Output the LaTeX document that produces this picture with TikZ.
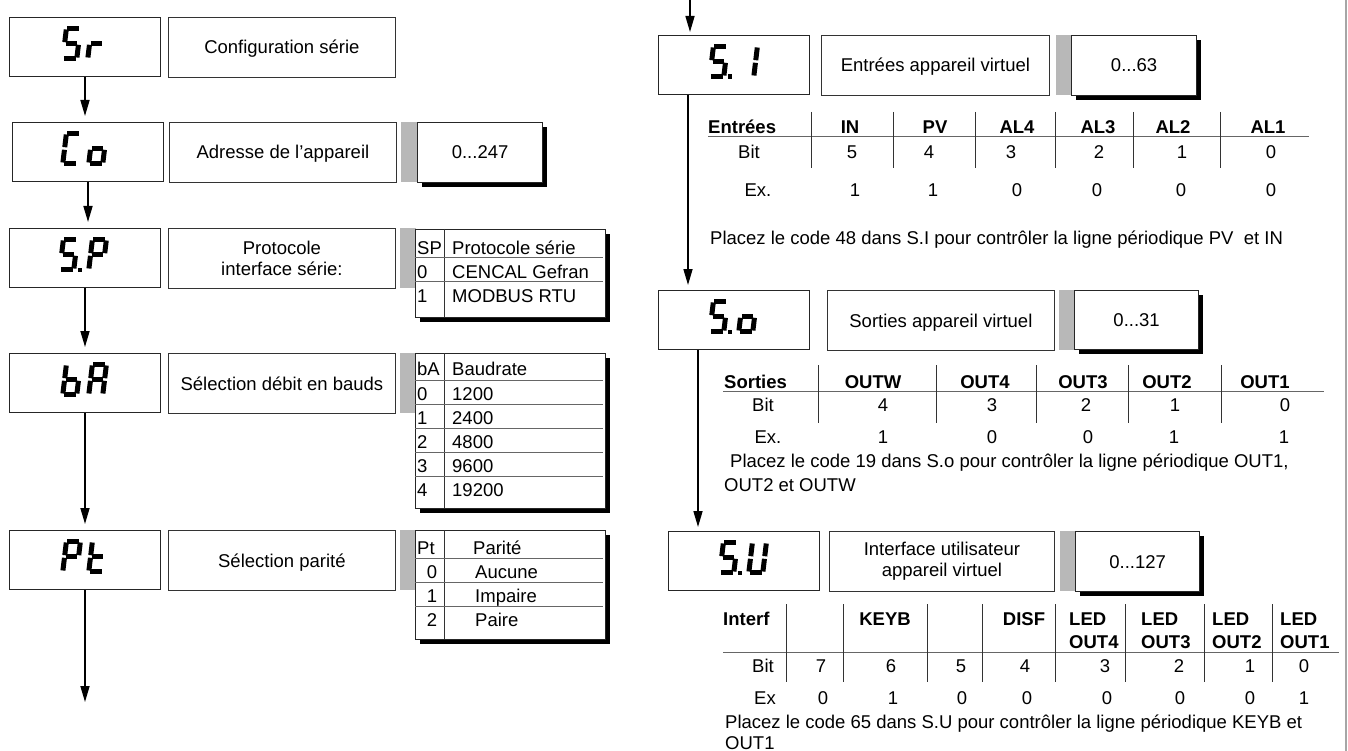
\documentclass[tikz,border=0pt]{standalone}
\usepackage{fontspec}
\setmainfont{Liberation Sans}
\usetikzlibrary{arrows.meta,positioning,shadows}

% one digit of the display: x, y (lower left), segments a b c d e f g
\newcommand{\sevenseg}[9]{%
  \begin{scope}[shift={(#1,#2)}, x=1pt, y=1pt, xslant=0.12]
    \ifnum#3=1 \draw[lcdseg] (3.5,32.5) -- (15.5,32.5);\fi
    \ifnum#4=1 \draw[lcdseg] (16.5,31.5) -- (16.5,18.8);\fi
    \ifnum#5=1 \draw[lcdseg] (16.5,16.2) -- (16.5,3.5);\fi
    \ifnum#6=1 \draw[lcdseg] (3.5,2.5) -- (15.5,2.5);\fi
    \ifnum#7=1 \draw[lcdseg] (2.5,16.2) -- (2.5,3.5);\fi
    \ifnum#8=1 \draw[lcdseg] (2.5,31.5) -- (2.5,18.8);\fi
    \ifnum#9=1 \draw[lcdseg] (3.8,17.5) -- (15.2,17.5);\fi
  \end{scope}}
\newcommand{\lcdS}[2]{\sevenseg{#1}{#2}1011011}
\newcommand{\lcdr}[2]{\sevenseg{#1}{#2}0000101}
\newcommand{\lcdC}[2]{\sevenseg{#1}{#2}1001110}
\newcommand{\lcdo}[2]{\sevenseg{#1}{#2}0011101}
\newcommand{\lcdP}[2]{\sevenseg{#1}{#2}1100111}
\newcommand{\lcdb}[2]{\sevenseg{#1}{#2}0011111}
\newcommand{\lcdA}[2]{\sevenseg{#1}{#2}1110111}
\newcommand{\lcdt}[2]{\sevenseg{#1}{#2}0001111}
\newcommand{\lcdI}[2]{\sevenseg{#1}{#2}0110000}
\newcommand{\lcdU}[2]{\sevenseg{#1}{#2}0111110}
\newcommand{\lcddot}[2]{\fill (#1+20.5,#2) rectangle (#1+25,#2-4.5);}

\begin{document}
\begin{tikzpicture}[x=1pt, y=-1pt, font=\fontsize{18.5}{21.5}\selectfont,
  lcdbox/.style={draw=black!85, line width=1pt, fill=white, minimum width=151pt, minimum height=59pt, inner sep=0pt, anchor=north west},
  descr/.style={draw=black!80, line width=0.8pt, minimum width=227pt, minimum height=60pt, inner sep=0pt, align=center, anchor=north west},
  capline/.style={text height=13.2pt, text depth=0pt},
  greybar/.style={fill=black!28, minimum width=16pt, minimum height=60pt, inner sep=0pt, anchor=north west},
  valbox/.style={draw=black!85, line width=0.8pt, fill=white, minimum width=125pt, minimum height=60pt, inner sep=0pt, capline, anchor=north west,
    drop shadow={shadow xshift=4.5pt, shadow yshift=-4.5pt, fill=black, opacity=1}},
  listbox/.style={draw=black!85, line width=0.8pt, fill=white, minimum width=190pt, inner sep=0pt, anchor=north west,
    drop shadow={shadow xshift=5pt, shadow yshift=-5pt, fill=black, opacity=1}},
  cell/.style={inner sep=0pt, text height=13.2pt, text depth=0pt},
  bold/.style={font=\fontsize{18.5}{23}\selectfont\bfseries},
  tabrule/.style={black!60, line width=0.9pt},
  tabsep/.style={black!80, line width=0.7pt},
  flow/.style={-{Triangle[length=16pt, width=9pt]}, line width=1.6pt, shorten >=6pt},
  lcdseg/.style={line width=5pt}]

  \useasboundingbox (0,0) rectangle (1348,751);

  % Left column displays
  \node[lcdbox] (Sr) at (9,17) {};
  \node[lcdbox] (Co) at (12,122) {};
  \node[lcdbox] (SP) at (9,228) {};
  \node[lcdbox] (bA) at (9,353) {};
  \node[lcdbox] (Pt) at (9,530) {};
  \lcdS{60}{61} \lcdr{85}{61}
  \lcdC{60}{166} \lcdo{86}{166}
  \lcdS{57}{272} \lcddot{57}{272} \lcdP{86}{272}
  \lcdb{60}{397} \lcdA{86}{397}
  \lcdP{60}{574} \lcdt{86}{574}

  % Left column descriptions
  \node[descr, capline, right=7pt of Sr.north east, anchor=north west] (dSr) {Configuration série};
  \node[descr, capline, right=5pt of Co.north east, anchor=north west] (dCo) {Adresse de l’appareil};
  \node[descr, right=7pt of SP.north east, anchor=north west] (dSP) {Protocole\\interface série:};
  \node[descr, capline, right=7pt of bA.north east, anchor=north west] (dbA) {Sélection débit en bauds};
  \node[descr, capline, right=7pt of Pt.north east, anchor=north west] (dPt) {Sélection parité};

  % Grey bars and value
  \node[greybar, right=4pt of dCo.north east, anchor=north west] (gCo) {};
  \node[greybar, right=4pt of dSP.north east, anchor=north west] (gSP) {};
  \node[greybar, right=4pt of dbA.north east, anchor=north west] (gbA) {};
  \node[greybar, right=4pt of dPt.north east, anchor=north west] (gPt) {};
  \node[valbox, right=0pt of gCo.north east, anchor=north west] (vCo) {0...247};

  % SP table
  \node[listbox, minimum height=88pt] (tSP) at (415,229) {};
  \draw[tabsep] (444,229) -- (444,317);
  \draw[tabrule] (415,257) -- (603,257);
  \draw[tabrule] (415,281) -- (603,281);
  \foreach \y/\k/\v [count=\i] in {248/SP/Protocole série, 272/0/CENCAL Gefran, 296/1/MODBUS RTU} {
    \node[cell, anchor=west] (spk\i) at (417,\y) {\k};
    \node[cell, anchor=west] (spv\i) at (452,\y) {\v};
  }

  % bA table
  \node[listbox, minimum height=155pt] (tbA) at (415,353) {};
  \draw[tabsep] (444,353) -- (444,508);
  \foreach \y in {380,404,428,452,476} \draw[tabrule] (415,\y) -- (603,\y);
  \foreach \y/\k/\v [count=\i] in {369/bA/Baudrate, 394/0/1200, 418/1/2400, 442/2/4800, 466/3/9600, 490/4/19200} {
    \node[cell, anchor=west] (bak\i) at (417,\y) {\k};
    \node[cell, anchor=west] (bav\i) at (452,\y) {\v};
  }

  % Pt table
  \node[listbox, minimum height=109pt] (tPt) at (415,530) {};
  \draw[tabsep] (444,530) -- (444,639);
  \foreach \y in {558,582,606} \draw[tabrule] (415,\y) -- (603,\y);
  \node[cell, anchor=west] (ptk0) at (417,548) {Pt};
  \node[cell, anchor=west] (ptv0) at (473,548) {Parité};
  \foreach \y/\k/\v [count=\i] in {572/0/Aucune, 596/1/Impaire, 620/2/Paire} {
    \node[cell] (ptk\i) at (432,\y) {\k};
    \node[cell, anchor=west] (ptv\i) at (475,\y) {\v};
  }

  % Left arrows
  \coordinate (endL) at (85,702);
  \draw[flow] (Sr.south) -- (Sr.south |- Co.north);
  \draw[flow] (Co.south) -- (Co.south |- SP.north);
  \draw[flow] (SP.south) -- (SP.south |- bA.north);
  \draw[flow] (bA.south) -- (bA.south |- Pt.north);
  \draw[flow, shorten >=0pt] (Pt.south) -- (endL);

  % Right column displays
  \node[lcdbox] (SI) at (658,35) {};
  \node[lcdbox] (So) at (658,290) {};
  \node[lcdbox] (SU) at (668,531) {};
  \lcdS{707}{79} \lcddot{707}{79} \lcdI{737}{79}
  \lcdS{707}{334} \lcddot{707}{334} \lcdo{736}{334}
  \lcdS{717}{575} \lcddot{717}{575} \lcdU{746}{575}

  % Right column descriptions, bars and values
  \node[descr, capline, minimum width=228pt, right=11pt of SI.north east, anchor=north west] (dSI) {Entrées appareil virtuel};
  \node[descr, capline, right=17pt of So.north east, anchor=north west] (dSo) {Sorties appareil virtuel};
  \node[descr, minimum width=225pt, right=9pt of SU.north east, anchor=north west] (dSU) {Interface utilisateur\\appareil virtuel};
  \node[greybar, minimum width=15pt, right=6pt of dSI.north east, anchor=north west] (gSI) {};
  \node[greybar, minimum width=15pt, right=4pt of dSo.north east, anchor=north west] (gSo) {};
  \node[greybar, minimum width=15pt, right=5pt of dSU.north east, anchor=north west] (gSU) {};
  \node[valbox, right=0pt of gSI.north east, anchor=north west] (vSI) {0...63};
  \node[valbox, minimum width=124pt, minimum height=59pt, right=0pt of gSo.north east, anchor=north west] (vSo) {0...31};
  \node[valbox, minimum width=124pt, right=0pt of gSU.north east, anchor=north west] (vSU) {0...127};

  % Entrees table
  \draw[tabrule] (708,136) -- (1309,136);
  \foreach \x in {811,893,975,1055,1133,1220} \draw[tabsep] (\x,112) -- (\x,168);
  \node[cell, bold, anchor=west] (eH0) at (708,127) {Entrées};
  \foreach \x/\t [count=\i] in {850/IN,935/PV,1017/AL4,1098/AL3,1173/AL2,1268/AL1}
    \node[cell, bold] (eH\i) at (\x,127) {\t};
  \node[cell] (eB0) at (749,152) {Bit};
  \foreach \x/\t [count=\i] in {852/5,929/4,1011/3,1099/2,1182/1,1271/0}
    \node[cell] (eB\i) at (\x,152) {\t};
  \node[cell] (eX0) at (758,190) {Ex.};
  \foreach \x/\t [count=\i] in {855/1,933/1,1017/0,1097/0,1181/0,1271/0}
    \node[cell] (eX\i) at (\x,190) {\t};
  \node[cell, anchor=west] (eNote) at (710,238) {Placez le code 48 dans S.I pour contrôler la ligne périodique PV~ et IN};

  % Sorties table
  \draw[tabrule] (723,391) -- (1324,391);
  \foreach \x in {818,936,1036,1128,1221} \draw[tabsep] (\x,365) -- (\x,423);
  \node[cell, bold, anchor=west] (oH0) at (724,382) {Sorties};
  \foreach \x/\t [count=\i] in {873/OUTW,985/OUT4,1083/OUT3,1167/OUT2,1265/OUT1}
    \node[cell, bold] (oH\i) at (\x,382) {\t};
  \node[cell] (oB0) at (763,405) {Bit};
  \foreach \x/\t [count=\i] in {883/4,992/3,1086/2,1175/1,1285/0}
    \node[cell] (oB\i) at (\x,405) {\t};
  \node[cell] (oX0) at (768,437) {Ex.};
  \foreach \x/\t [count=\i] in {883/1,992/0,1088/0,1174/1,1284/1}
    \node[cell] (oX\i) at (\x,437) {\t};
  \node[cell, anchor=west] (oNote1) at (730,461) {Placez le code 19 dans S.o pour contrôler la ligne périodique OUT1,};
  \node[cell, anchor=west] (oNote2) at (724,485) {OUT2 et OUTW};

  % Interf table
  \draw[tabrule] (723,652) -- (1339,652);
  \foreach \x in {786,843,927,982,1055,1125,1204,1272} \draw[tabsep] (\x,604) -- (\x,682);
  \node[cell, bold, anchor=west] (uH0) at (723,619) {Interf};
  \node[cell, bold] (uH1) at (885,619) {KEYB};
  \node[cell, bold] (uH2) at (1024,619) {DISF};
  \foreach \x/\t [count=\i] in {1069/OUT4,1141/OUT3,1212/OUT2,1280/OUT1}
    \node[bold, inner sep=0pt, align=left, anchor=west] (uL\i) at (\x,630.5) {LED\\\t};
  \node[cell] (uB0) at (763,666) {Bit};
  \foreach \x/\t [count=\i] in {821/7,891/6,961/5,1025/4,1105/3,1179/2,1250/1,1304/0}
    \node[cell] (uB\i) at (\x,666) {\t};
  \node[cell] (uX0) at (765,698) {Ex};
  \foreach \x/\t [count=\i] in {823/0,893/1,962/0,1027/0,1107/0,1180/0,1250/0,1304/1}
    \node[cell] (uX\i) at (\x,698) {\t};
  \node[cell, anchor=west] (uNote1) at (725,722) {Placez le code 65 dans S.U pour contrôler la ligne périodique KEYB et};
  \node[cell, anchor=west] (uNote2) at (725,743) {OUT1};

  % Right arrows
  \coordinate (topR) at (690,0);
  \draw[flow, shorten >=3pt] (topR) -- (topR |- SI.north);
  \draw[flow, shorten >=5pt] ([xshift=30pt]SI.south west) -- ([xshift=30pt]SI.south west |- So.north);
  \draw[flow, shorten >=4pt] ([xshift=40pt]So.south west) -- ([xshift=40pt]So.south west |- SU.north);

  % page edge
  \draw[black!35, line width=1.5pt] (1346,0) -- (1346,751);

\end{tikzpicture}
\end{document}
